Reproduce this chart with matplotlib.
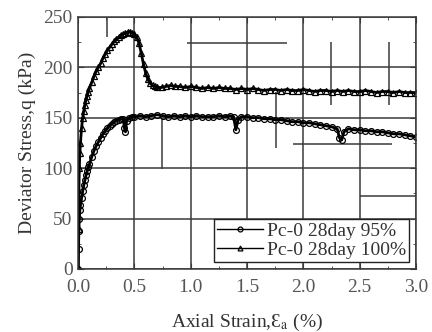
import matplotlib.pyplot as plt
import numpy as np

plt.rcParams['font.family'] = ['Liberation Serif', 'DejaVu Serif']
plt.rcParams['mathtext.fontset'] = 'stix'

# Pc-0 28day 100% (triangles)
strain_100 = [0, 0.003, 0.006, 0.01, 0.015, 0.02, 0.03, 0.04, 0.05, 0.06, 0.07, 0.08, 0.09,
              0.10, 0.12, 0.14, 0.16, 0.18, 0.20, 0.22, 0.24, 0.26, 0.28, 0.30, 0.32, 0.34,
              0.36, 0.38, 0.40, 0.42, 0.44, 0.46, 0.48, 0.50, 0.52, 0.54, 0.56, 0.58, 0.60,
              0.62, 0.64, 0.66, 0.68, 0.70, 0.74, 0.78, 0.82, 0.86, 0.90, 0.95, 1.00, 1.05,
              1.10, 1.15, 1.20, 1.25, 1.30, 1.35, 1.40, 1.45, 1.50, 1.55, 1.60, 1.65, 1.70,
              1.75, 1.80, 1.85, 1.90, 1.95, 2.00, 2.05, 2.10, 2.15, 2.20, 2.25, 2.30, 2.35,
              2.40, 2.45, 2.50, 2.55, 2.60, 2.65, 2.70, 2.75, 2.80, 2.85, 2.90, 2.95, 3.00]
q_100 = [0, 40, 75, 100, 115, 125, 140, 150, 157, 163, 168, 172, 176,
         179, 185, 191, 196, 200, 204, 209, 213, 217, 220, 223, 226, 228,
         230, 232, 233, 234, 235, 235, 234, 233, 230, 224, 214, 203, 194,
         188, 184, 182, 181, 180, 180, 181, 182, 181, 181, 180, 181, 180,
         179, 180, 179, 180, 179, 179, 178, 179, 178, 179, 178, 177, 178,
         178, 177, 178, 177, 177, 178, 177, 176, 177, 177, 176, 177, 176,
         177, 176, 176, 177, 176, 175, 176, 176, 175, 176, 175, 175, 175]

# Pc-0 28day 95% (circles)
strain_95 = [0, 0.003, 0.006, 0.01, 0.015, 0.02, 0.03, 0.04, 0.05, 0.06, 0.07, 0.08, 0.09,
             0.10, 0.12, 0.14, 0.16, 0.18, 0.20, 0.22, 0.24, 0.26, 0.28, 0.30, 0.32, 0.34,
             0.36, 0.38, 0.40, 0.41, 0.42, 0.43, 0.45, 0.48, 0.50, 0.55, 0.60, 0.65, 0.70,
             0.75, 0.80, 0.85, 0.90, 0.95, 1.00, 1.05, 1.10, 1.15, 1.20, 1.25, 1.30, 1.35,
             1.38, 1.40, 1.42, 1.45, 1.50, 1.55, 1.60, 1.65, 1.70, 1.75, 1.80, 1.85, 1.90,
             1.95, 2.00, 2.05, 2.10, 2.15, 2.20, 2.25, 2.30, 2.32, 2.34, 2.36, 2.40, 2.45,
             2.50, 2.55, 2.60, 2.65, 2.70, 2.75, 2.80, 2.85, 2.90, 2.95, 3.00]
q_95 = [0, 20, 38, 50, 58, 63, 70, 77, 83, 88, 93, 97, 101,
        104, 111, 117, 122, 126, 130, 134, 137, 140, 142, 144, 146, 147,
        148, 149, 149, 140, 136, 147, 150, 151, 151, 152, 151, 152, 153,
        152, 151, 152, 151, 152, 151, 152, 151, 151, 151, 152, 151, 152,
        151, 138, 148, 151, 151, 150, 150, 149, 149, 148, 148, 147, 146,
        146, 145, 145, 144, 143, 142, 141, 139, 130, 128, 136, 139, 138,
        138, 137, 137, 136, 136, 135, 134, 134, 133, 132, 131]

# stray line segments visible in the figure
vseg_x = [0.26, 0.745, 1.76, 2.245, 2.76]
vseg_lo = [230, 99, 120, 163, 163]
vseg_hi = [250, 150, 176, 225, 225]
hseg_y = [224, 124, 72]
hseg_lo = [0.97, 1.91, 2.5]
hseg_hi = [1.85, 2.79, 3.0]

fig = plt.figure(figsize=(4.32, 3.32), dpi=100)
ax = fig.add_axes([0.181, 0.19, 0.782, 0.759])

gc = '#3a3a3a'
fs = 14
ax.grid(True, color=gc, linewidth=1.1)
ax.set_axisbelow(True)
ax.vlines(vseg_x, vseg_lo, vseg_hi, color=gc, linewidth=1.1)
ax.hlines(hseg_y, hseg_lo, hseg_hi, color=gc, linewidth=1.1)

ax.plot(strain_95, q_95, color='black', linewidth=2.0, marker='o', markersize=4.2,
        mfc='none', mec='black', mew=0.9, label='Pc-0 28day 95%')
ax.plot(strain_100, q_100, color='black', linewidth=2.0, marker='^', markersize=4.2,
        mfc='none', mec='black', mew=0.9, label='Pc-0 28day 100%')

ax.set_xlim(0, 3.0)
ax.set_ylim(0, 250)
ax.set_xticks(np.arange(0, 3.01, 0.5))
ax.set_xticklabels(['0.0', '0.5', '1.0', '1.5', '2.0', '2.5', '3.0'])
ax.set_yticks(np.arange(0, 251, 50))
ax.set_xticks(np.arange(0.25, 3.0, 0.5), minor=True)
ax.set_yticks(np.arange(25, 250, 50), minor=True)
ax.tick_params(which='both', direction='in', top=True, right=True, colors=gc,
               labelcolor='#555555', labelsize=fs, pad=4)
ax.tick_params(axis='x', which='major', pad=7)
ax.tick_params(which='major', length=4)
ax.tick_params(which='minor', length=2)
for s in ax.spines.values():
    s.set_color(gc)
    s.set_linewidth(1.1)

ax.set_xlabel('Axial Strain,Ɛ$_{\\rm a}$ (%)', fontsize=fs, color='#333333', labelpad=12)
ax.set_ylabel('Deviator Stress,q (kPa)', fontsize=fs, color='#333333', labelpad=5)

leg = ax.legend(loc='lower right', fontsize=fs, frameon=True, fancybox=False,
                edgecolor='#222222', framealpha=1, borderpad=0.15, labelspacing=0.1,
                handlelength=2.4, handletextpad=0.2, borderaxespad=0.35)
leg.get_frame().set_linewidth(1.0)
for h in leg.legend_handles:
    h.set_linewidth(1.0)
    h.set_markersize(3.5)
for t in leg.get_texts():
    t.set_color('#333333')

fig.savefig('out.png', dpi=100)
